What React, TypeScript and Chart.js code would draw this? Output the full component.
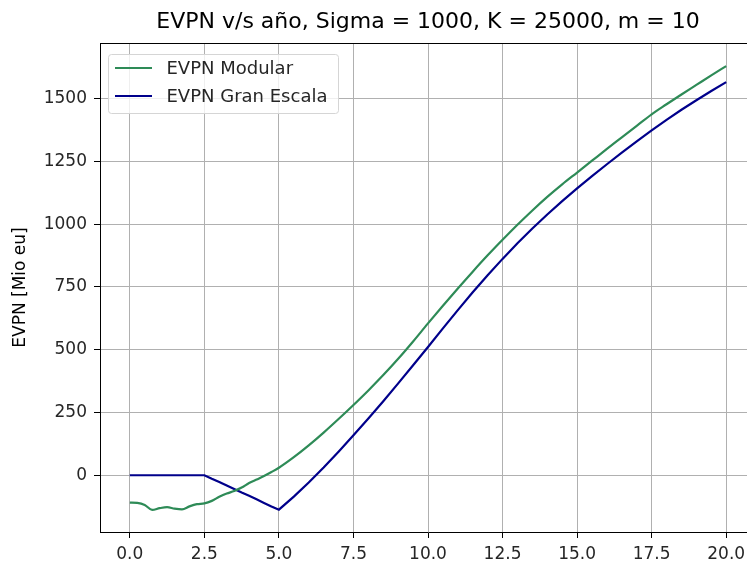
import React, { useEffect, useRef } from "react";
import { Chart, registerables } from "chart.js";

Chart.register(...registerables);

const years = [
  0, 0.25, 0.5, 0.75, 1, 1.25, 1.5, 1.75, 2, 2.25, 2.5, 2.75, 3, 3.25, 3.5, 3.75, 4, 4.25, 4.5, 4.75, 5,
  5.5, 6, 6.5, 7, 7.5, 8, 8.5, 9, 9.5, 10, 10.5, 11, 11.5, 12, 12.5, 13, 13.5, 14, 14.5, 15,
  15.5, 16, 16.5, 17, 17.5, 18, 18.5, 19, 19.5, 20,
];

const evpnModular = [
  -109, -110, -118, -138, -131, -127, -133, -136, -124, -115, -112, -102, -86, -73, -63, -49, -31, -17, -3, 13, 30,
  72, 119, 170, 224, 280, 338, 399, 464, 533, 605, 675, 744, 811, 876, 938, 998, 1055, 1109, 1159, 1206,
  1253, 1300, 1346, 1392, 1438, 1478, 1517, 1555, 1593, 1630,
];

const evpnGranEscala = [
  0, 0, 0, 0, 0, 0, 0, 0, 0, 0, 0, -14, -27, -41, -55, -69, -82, -96, -110, -124, -137,
  -85, -29, 31, 94, 159, 226, 295, 366, 438, 511, 585, 658, 729, 797, 862, 924, 983, 1039, 1092, 1143,
  1192, 1239, 1285, 1330, 1374, 1416, 1456, 1494, 1531, 1566,
];

const seriesLabels = ["EVPN Modular", "EVPN Gran Escala"];
const seriesColors = ["#2e8b57", "#00008b"];
const xTickValues = [0, 2.5, 5, 7.5, 10, 12.5, 15, 17.5, 20];
const yTickValues = [0, 250, 500, 750, 1000, 1250, 1500];

const titleText = "EVPN v/s año, Sigma = 1000, K = 25000, m = 10";
const yAxisTitle = "EVPN [Mio eu]";

const FONT = "'DejaVu Sans', sans-serif";

const boxPlugin = {
  id: "boxAndLegend",
  afterDraw(chart: any) {
    const { ctx, chartArea } = chart;
    const { left, right, top, bottom } = chartArea;
    ctx.save();
    ctx.strokeStyle = "#000";
    ctx.lineWidth = 1;
    ctx.beginPath();
    ctx.moveTo(left, top + 0.5);
    ctx.lineTo(right, top + 0.5);
    ctx.moveTo(right - 0.5, top);
    ctx.lineTo(right - 0.5, bottom);
    ctx.stroke();

    // legend box
    const bx = left + 8.5;
    const by = top + 11.5;
    const bw = 230;
    const bh = 59;
    const r = 3;
    ctx.beginPath();
    ctx.moveTo(bx + r, by);
    ctx.lineTo(bx + bw - r, by);
    ctx.quadraticCurveTo(bx + bw, by, bx + bw, by + r);
    ctx.lineTo(bx + bw, by + bh - r);
    ctx.quadraticCurveTo(bx + bw, by + bh, bx + bw - r, by + bh);
    ctx.lineTo(bx + r, by + bh);
    ctx.quadraticCurveTo(bx, by + bh, bx, by + bh - r);
    ctx.lineTo(bx, by + r);
    ctx.quadraticCurveTo(bx, by, bx + r, by);
    ctx.closePath();
    ctx.fillStyle = "rgba(255,255,255,0.8)";
    ctx.fill();
    ctx.strokeStyle = "#d5d5d5";
    ctx.lineWidth = 1;
    ctx.stroke();

    ctx.font = `18px ${FONT}`;
    ctx.textBaseline = "middle";
    ctx.textAlign = "left";
    chart.data.datasets.forEach((ds: any, i: number) => {
      const y = top + 25 + i * 28;
      ctx.strokeStyle = ds.borderColor;
      ctx.lineWidth = 2.2;
      ctx.beginPath();
      ctx.moveTo(left + 15, y);
      ctx.lineTo(left + 52, y);
      ctx.stroke();
      ctx.fillStyle = "#262626";
      ctx.fillText(ds.label, left + 66.5, y + 1);
    });
    ctx.restore();
  },
};

export default function App() {
  const canvasRef = useRef<HTMLCanvasElement | null>(null);

  useEffect(() => {
    if (!canvasRef.current) return;
    Chart.defaults.font.family = FONT;
    const chart = new Chart(canvasRef.current, {
      type: "line",
      data: {
        datasets: [
          {
            label: seriesLabels[0],
            data: years.map((x, i) => ({ x, y: evpnModular[i] })),
            borderColor: seriesColors[0],
            backgroundColor: seriesColors[0],
            borderWidth: 2.2,
            pointRadius: 0,
            cubicInterpolationMode: "monotone",
          },
          {
            label: seriesLabels[1],
            data: years.map((x, i) => ({ x, y: evpnGranEscala[i] })),
            borderColor: seriesColors[1],
            backgroundColor: seriesColors[1],
            borderWidth: 2.2,
            pointRadius: 0,
            tension: 0,
          },
        ],
      },
      options: {
        animation: false,
        responsive: false,
        maintainAspectRatio: false,
        layout: { padding: { left: 0, right: 0, top: 0, bottom: 0 } },
        plugins: {
          legend: { display: false },
          tooltip: { enabled: false },
          title: {
            display: true,
            fullSize: false,
            text: titleText,
            color: "#000",
            font: { size: 22, weight: "normal", family: FONT },
            padding: { top: 9, bottom: 7.6 },
          },
        },
        scales: {
          x: {
            type: "linear",
            min: -1,
            max: 21,
            afterBuildTicks: (scale: any) => {
              scale.ticks = xTickValues.map((v) => ({ value: v }));
            },
            afterFit: (scale: any) => {
              scale.height = 31;
            },
            ticks: {
              color: "#262626",
              font: { size: 17, family: FONT },
              padding: 6,
              maxRotation: 0,
              autoSkip: false,
              callback: (v: any) => Number(v).toFixed(1),
            },
            grid: {
              color: "#b0b0b0",
              lineWidth: 1,
              tickColor: "#000",
              tickLength: 6,
              drawTicks: true,
            },
            border: { display: true, color: "#000", width: 1 },
          },
          y: {
            type: "linear",
            min: -226,
            max: 1722,
            afterBuildTicks: (scale: any) => {
              scale.ticks = yTickValues.map((v) => ({ value: v }));
            },
            afterFit: (scale: any) => {
              scale.width = 100;
            },
            ticks: {
              color: "#262626",
              font: { size: 17, family: FONT },
              padding: 7,
              autoSkip: false,
              callback: (v: any) => String(v),
            },
            grid: {
              color: "#b0b0b0",
              lineWidth: 1,
              tickColor: "#000",
              tickLength: 6,
              drawTicks: true,
            },
            border: { display: true, color: "#000", width: 1 },
            title: {
              display: true,
              text: yAxisTitle,
              color: "#000",
              font: { size: 17, family: FONT },
              padding: { top: 10, bottom: 0 },
            },
          },
        },
      },
      plugins: [boxPlugin],
    } as any);
    return () => chart.destroy();
  }, []);

  return (
    <div style={{ position: "fixed", left: 0, top: 0, width: 747, height: 563, overflow: "hidden", background: "#fff" }}>
      <canvas ref={canvasRef} width={756} height={563} style={{ width: 756, height: 563, display: "block" }} />
    </div>
  );
}
